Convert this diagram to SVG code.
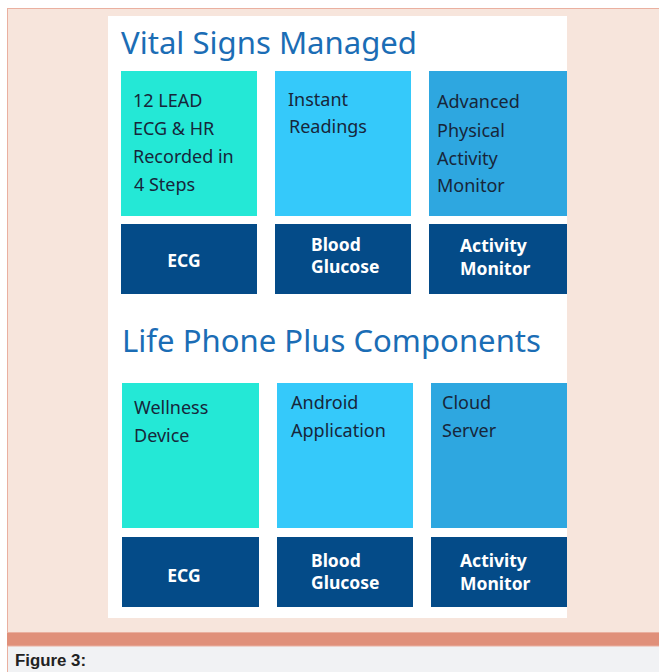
<svg xmlns="http://www.w3.org/2000/svg" width="659" height="672" viewBox="0 0 659 672">
<style>
.h{font-family:"Noto Sans","Open Sans",sans-serif;fill:#1b6db5;font-size:31px}
.t{font-family:"Noto Sans","Open Sans",sans-serif;fill:#17263a;font-size:18px}
.w{font-family:"Noto Sans","Open Sans",sans-serif;fill:#ffffff;font-size:17.5px;font-weight:bold}
.c1{fill:#24e8d6}
.c2{fill:#35c9fa}
.c3{fill:#2ea7e0}
.d{fill:#044b88}
</style>
<rect x="0" y="0" width="659" height="672" fill="#ffffff"/>
<rect x="7.5" y="8.5" width="660" height="624" fill="#f7e5dc" stroke="#eab0a0" stroke-width="1"/>
<rect x="7" y="633" width="652" height="13" fill="#e0907a"/>
<rect x="7.5" y="646" width="660" height="27" fill="#f1f2f4" stroke="#eab0a0" stroke-width="1"/>
<text x="15" y="666" font-family="Liberation Sans, Arial, sans-serif" font-size="16" font-weight="bold" fill="#222" textLength="71" lengthAdjust="spacingAndGlyphs">Figure 3:</text>
<rect x="108" y="16" width="459" height="602" fill="#ffffff"/>
<g id="title1"><text class="h" x="121" y="54" textLength="296" lengthAdjust="spacingAndGlyphs">Vital Signs Managed</text></g>
<g id="ecg-top"><rect class="c1" x="121" y="71" width="136" height="145"/>
<text class="t" x="133" y="107">12 LEAD</text><text class="t" x="133" y="135">ECG &amp; HR</text><text class="t" x="133" y="163">Recorded in</text><text class="t" x="134" y="191">4 Steps</text></g>
<g id="glucose-top"><rect class="c2" x="275" y="71" width="136" height="145"/>
<text class="t" x="288" y="106">Instant</text><text class="t" x="289" y="133">Readings</text></g>
<g id="activity-top"><rect class="c3" x="429" y="71" width="138" height="145"/>
<text class="t" x="437" y="108">Advanced</text><text class="t" x="437" y="137">Physical</text><text class="t" x="437" y="165">Activity</text><text class="t" x="437" y="192">Monitor</text></g>
<g id="ecg-label1"><rect class="d" x="121" y="224" width="136" height="70"/><text class="w" x="184" y="267" text-anchor="middle">ECG</text></g>
<g id="glucose-label1"><rect class="d" x="275" y="224" width="136" height="70"/><text class="w" x="311" y="251">Blood</text><text class="w" x="311" y="273">Glucose</text></g>
<g id="activity-label1"><rect class="d" x="429" y="224" width="138" height="70"/><text class="w" x="460" y="252">Activity</text><text class="w" x="460" y="275">Monitor</text></g>
<g id="title2"><text class="h" x="122" y="352" textLength="419" lengthAdjust="spacingAndGlyphs">Life Phone Plus Components</text></g>
<g id="wellness"><rect class="c1" x="122" y="383" width="137" height="145"/>
<text class="t" x="134" y="414">Wellness</text><text class="t" x="134" y="442">Device</text></g>
<g id="android"><rect class="c2" x="277" y="383" width="136" height="145"/>
<text class="t" x="291" y="409">Android</text><text class="t" x="291" y="437">Application</text></g>
<g id="cloud"><rect class="c3" x="431" y="383" width="136" height="145"/>
<text class="t" x="442" y="409">Cloud</text><text class="t" x="442" y="437">Server</text></g>
<g id="ecg-label2"><rect class="d" x="122" y="537" width="137" height="70"/><text class="w" x="184" y="582" text-anchor="middle">ECG</text></g>
<g id="glucose-label2"><rect class="d" x="277" y="537" width="136" height="70"/><text class="w" x="311" y="567">Blood</text><text class="w" x="311" y="589">Glucose</text></g>
<g id="activity-label2"><rect class="d" x="431" y="537" width="136" height="70"/><text class="w" x="460" y="567">Activity</text><text class="w" x="460" y="590">Monitor</text></g>
<g id="connectors"></g>
</svg>
